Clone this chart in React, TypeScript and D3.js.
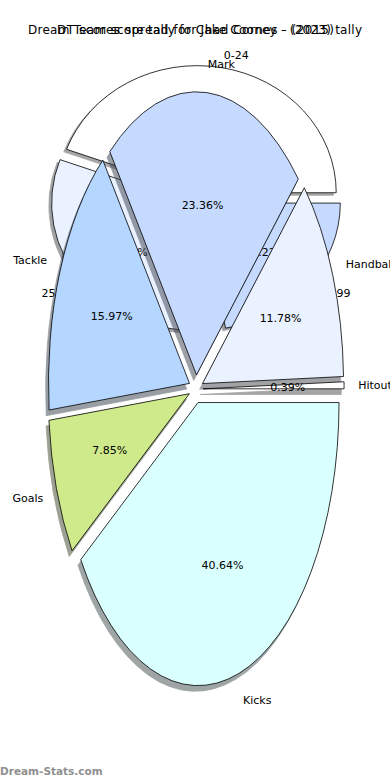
import React from 'react';
import * as d3 from 'd3';

// Background pie (score ranges)
const BG_LABELS = ['0-24', '25-49', '75-99'];
const BG_VALUES = [4, 3, 2];
const BG_COLORS = ['#ffffff', '#eaf1ff', '#c6daff'];

// Foreground pie (score sources)
const FG_LABELS = ['Hitout', 'Handball', 'Mark', 'Tackle', 'Goals', 'Kicks'];
const FG_VALUES = [0.39, 11.78, 23.36, 15.97, 7.85, 40.64];
const FG_COLORS = ['#ffffff', '#eaf1ff', '#c6daff', '#b5d6ff', '#cfea8b', '#daffff'];

const TITLE_A = 'Dream Team score tally for Jake Cooney - (2023) tally';
const TITLE_B = 'DT scores spread for Chad Cornes - (2015)';
const WATERMARK = 'Dream-Stats.com';

const FONT = 'DejaVu Sans, sans-serif';

function shade(hex: string) {
  const c = d3.rgb(hex);
  return d3.rgb(c.r * 0.3, c.g * 0.3, c.b * 0.3).formatHex();
}

type PieProps = {
  labels: string[];
  values: number[];
  colors: string[];
  cx: number;
  cy: number;
  rx: number;
  ry: number;
  explode: number;
};

function Pie({ labels, values, colors, cx, cy, rx, ry, explode }: PieProps) {
  const pie = d3
    .pie<number>()
    .sort(null)
    .value((d) => d)
    .startAngle(Math.PI / 2)
    .endAngle(Math.PI / 2 - 2 * Math.PI);
  const arcs = pie(values);
  const arc = d3.arc<d3.PieArcDatum<number>>().innerRadius(0).outerRadius(1);
  const total = d3.sum(values);
  const items = arcs.map((a, i) => {
    const m = (a.startAngle + a.endAngle) / 2;
    const ux = Math.sin(m);
    const uy = -Math.cos(m);
    const sx = cx + explode * rx * ux;
    const sy = cy + explode * ry * uy;
    return {
      a,
      i,
      sx,
      sy,
      lx: sx + 1.1 * rx * ux,
      ly: sy + 1.1 * ry * uy,
      px: sx + 0.6 * rx * ux,
      py: sy + 0.6 * ry * uy,
      anchor: ux > 0 ? 'start' : 'end',
      pct: ((values[i] / total) * 100).toFixed(2) + '%',
    };
  });
  const sdx = -0.02 * rx;
  const sdy = 0.02 * ry;
  return (
    <g>
      {items.map((it) => (
        <path
          key={'s' + it.i}
          d={arc(it.a) || ''}
          transform={`translate(${it.sx + sdx},${it.sy + sdy}) scale(${rx},${ry})`}
          fill={shade(colors[it.i])}
          stroke={shade(colors[it.i])}
          strokeWidth={0.8}
          vectorEffect="non-scaling-stroke"
          opacity={0.5}
        />
      ))}
      {items.map((it) => (
        <path
          key={'w' + it.i}
          d={arc(it.a) || ''}
          transform={`translate(${it.sx},${it.sy}) scale(${rx},${ry})`}
          fill={colors[it.i]}
          stroke="#000"
          strokeWidth={0.8}
          vectorEffect="non-scaling-stroke"
        />
      ))}
      {items.map((it) => (
        <text
          key={'l' + it.i}
          x={it.lx}
          y={it.ly}
          dy="0.35em"
          textAnchor={it.anchor}
          fontSize={11}
          fontFamily={FONT}
          fill="#000"
        >
          {labels[it.i]}
        </text>
      ))}
      {items.map((it) => (
        <text
          key={'p' + it.i}
          x={it.px}
          y={it.py}
          dy="0.35em"
          textAnchor="middle"
          fontSize={11}
          fontFamily={FONT}
          fill="#000"
        >
          {it.pct}
        </text>
      ))}
    </g>
  );
}

export default function App() {
  return (
    <svg
      width={390}
      height={780}
      viewBox="0 0 390 780"
      style={{ position: 'absolute', left: 0, top: 0, background: '#fff' }}
    >
      <rect x={0} y={0} width={390} height={780} fill="#fff" />
      <Pie
        labels={BG_LABELS}
        values={BG_VALUES}
        colors={BG_COLORS}
        cx={196}
        cy={199}
        rx={139}
        ry={127}
        explode={0.05}
      />
      <text
        x={195}
        y={34}
        textAnchor="middle"
        fontSize={12}
        fontFamily={FONT}
        textLength={334}
        lengthAdjust="spacing"
      >
        {TITLE_A}
      </text>
      <Pie
        labels={FG_LABELS}
        values={FG_VALUES}
        colors={FG_COLORS}
        cx={196}
        cy={389}
        rx={141}
        ry={283}
        explode={0.05}
      />
      <text
        x={195.5}
        y={34}
        textAnchor="middle"
        fontSize={12}
        fontFamily={FONT}
        textLength={277}
        lengthAdjust="spacing"
      >
        {TITLE_B}
      </text>
      <text x={0} y={775} fontSize={10.5} fontWeight="bold" fontFamily={FONT} fill="#8f8f8f">
        {WATERMARK}
      </text>
    </svg>
  );
}
